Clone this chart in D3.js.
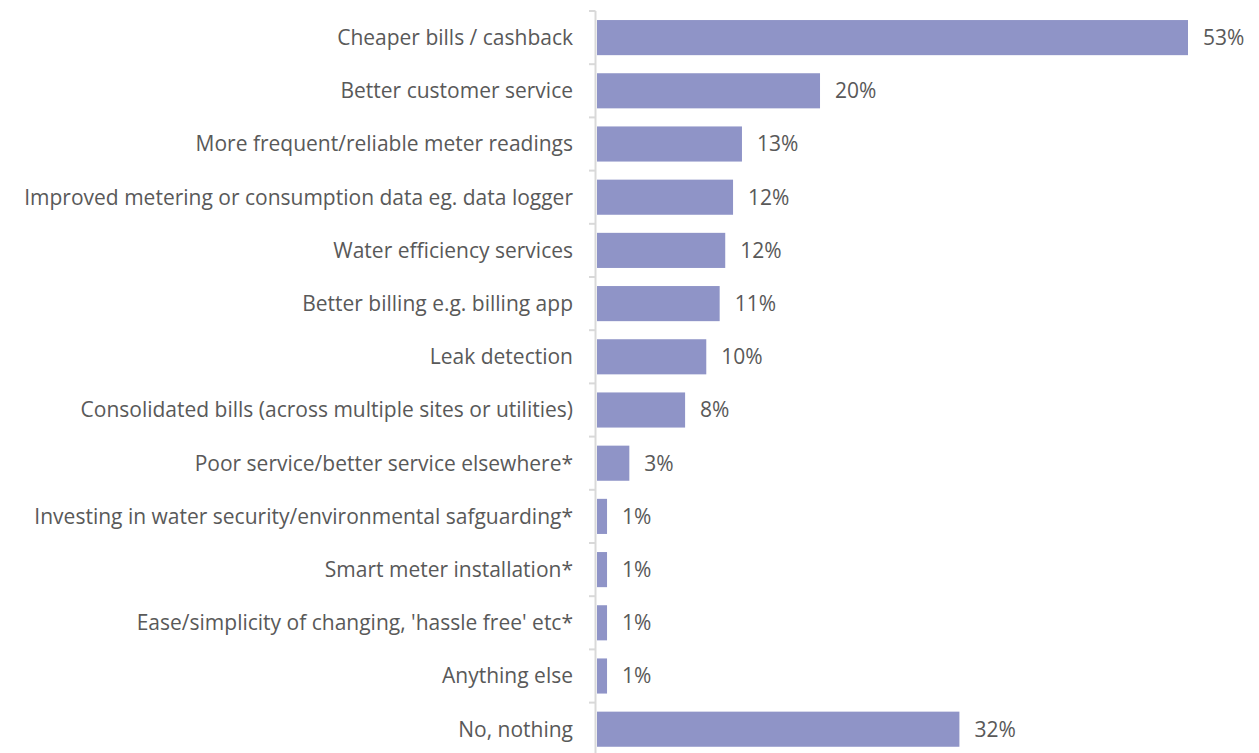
<!DOCTYPE html>
<html>
<head>
<meta charset="utf-8">
<script src="https://cdn.jsdelivr.net/npm/d3@7"></script>
<style>
  body { margin: 0; background: #fff; }
  svg text { font-family: 'Open Sans', sans-serif; fill: #595959; }
</style>
</head>
<body>
<div id="chart"></div>
<script>
// categories, top to bottom
var categories = [
  'Cheaper bills / cashback',
  'Better customer service',
  'More frequent/reliable meter readings',
  'Improved metering or consumption data eg. data logger',
  'Water efficiency services',
  'Better billing e.g. billing app',
  'Leak detection',
  'Consolidated bills (across multiple sites or utilities)',
  'Poor service/better service elsewhere*',
  'Investing in water security/environmental safguarding*',
  'Smart meter installation*',
  "Ease/simplicity of changing, 'hassle free' etc*",
  'Anything else',
  'No, nothing'
]
// share of respondents (%)
var values = [53, 20, 13, 12.2, 11.5, 11, 9.8, 7.9, 2.9, 0.9, 0.9, 0.9, 0.9, 32.5]
// labels as printed next to the bars
var valueLabels = ['53%', '20%', '13%', '12%', '12%', '11%', '10%', '8%', '3%', '1%', '1%', '1%', '1%', '32%']

var width = 1259
var height = 753
var margin = { top: 11, left: 597 }
var fontSize = '21px'

var svg = d3.select('#chart')
  .append('svg')
  .attr('width', width)
  .attr('height', height)

var x = d3.scaleLinear()
  .domain([0, 53])
  .range([margin.left, 1188])

var y = d3.scaleBand()
  .domain(categories)
  .range([margin.top, margin.top + 14 * 53.2])
  .paddingInner(0.34)
  .paddingOuter(0.17)

// bars
svg.append('g')
  .selectAll('rect')
  .data(values)
  .enter()
  .append('rect')
  .attr('x', x(0))
  .attr('y', function (d, i) { return y(categories[i]) })
  .attr('width', function (d) { return x(d) - x(0) })
  .attr('height', y.bandwidth())
  .attr('fill', '#8f94c7')

// value labels
svg.append('g')
  .selectAll('text')
  .data(values)
  .enter()
  .append('text')
  .attr('x', function (d) { return x(d) + 15 })
  .attr('y', function (d, i) { return y(categories[i]) + y.bandwidth() / 2 })
  .attr('dy', '0.35em')
  .style('font-size', fontSize)
  .text(function (d, i) { return valueLabels[i] })

// category axis: vertical line with tick marks between categories
var axis = svg.append('g')
axis.append('line')
  .attr('x1', margin.left - 1.5).attr('x2', margin.left - 1.5)
  .attr('y1', y.range()[0]).attr('y2', y.range()[1])
  .attr('stroke', '#d9d9d9').attr('stroke-width', 2)
var step = y.step()
axis.selectAll('.tick')
  .data(d3.range(categories.length + 1))
  .enter()
  .append('line')
  .attr('class', 'tick')
  .attr('x1', margin.left - 8).attr('x2', margin.left - 1.5)
  .attr('y1', function (i) { return y.range()[0] + i * step })
  .attr('y2', function (i) { return y.range()[0] + i * step })
  .attr('stroke', '#d9d9d9').attr('stroke-width', 2)

axis.selectAll('.label')
  .data(categories)
  .enter()
  .append('text')
  .attr('class', 'label')
  .attr('x', 573)
  .attr('y', function (d) { return y(d) + y.bandwidth() / 2 })
  .attr('dy', '0.35em')
  .attr('text-anchor', 'end')
  .style('font-size', fontSize)
  .text(function (d) { return d })
</script>
</body>
</html>
